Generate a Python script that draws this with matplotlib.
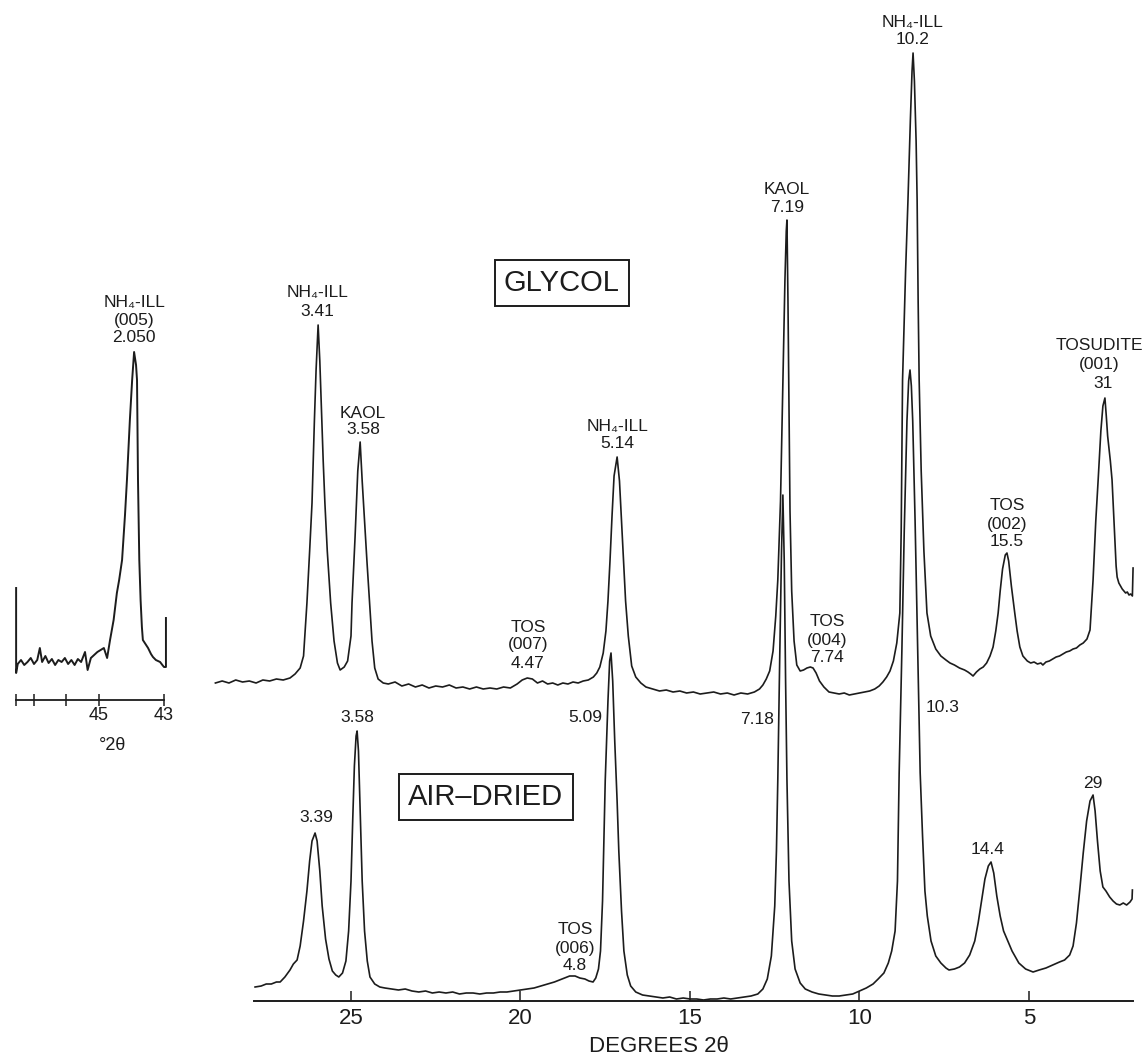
import matplotlib
matplotlib.use("Agg")
import matplotlib.pyplot as plt

plt.rcParams['font.family'] = ['Liberation Sans', 'DejaVu Sans']

# ---- glycol-solvated trace (degrees 2-theta, intensity) ----
gly_deg = [29.00, 28.80, 28.60, 28.40, 28.20, 28.00, 27.80, 27.60, 27.40, 27.20,
           27.00, 26.80, 26.65, 26.50, 26.40, 26.30, 26.22, 26.15, 26.08, 26.03,
           25.97, 25.92, 25.88, 25.82, 25.77, 25.70, 25.60, 25.50, 25.40, 25.32,
           25.20, 25.10, 25.00, 24.97, 24.88, 24.80, 24.73, 24.67, 24.60, 24.53,
           24.45, 24.38, 24.30, 24.20, 24.05, 23.90, 23.70, 23.50, 23.30, 23.10,
           22.90, 22.70, 22.50, 22.30, 22.10, 21.90, 21.70, 21.50, 21.30, 21.10,
           20.90, 20.70, 20.50, 20.30, 20.10, 19.95, 19.80, 19.65, 19.50, 19.35,
           19.20, 19.05, 18.90, 18.75, 18.60, 18.45, 18.30, 18.15, 18.00, 17.85,
           17.75, 17.66, 17.56, 17.48, 17.42, 17.36, 17.30, 17.24, 17.15, 17.08,
           17.02, 16.96, 16.90, 16.82, 16.72, 16.60, 16.45, 16.30, 16.10, 15.90,
           15.70, 15.50, 15.30, 15.10, 14.90, 14.70, 14.50, 14.30, 14.10, 13.90,
           13.70, 13.50, 13.30, 13.10, 12.95, 12.85, 12.75, 12.65, 12.55, 12.47,
           12.41, 12.33, 12.26, 12.20, 12.16, 12.14, 12.11, 12.08, 12.05, 12.00,
           11.93, 11.85, 11.75, 11.65, 11.55, 11.45, 11.37, 11.28, 11.18, 11.05,
           10.90, 10.75, 10.60, 10.45, 10.30, 10.15, 10.00, 9.85, 9.70, 9.55,
           9.42, 9.31, 9.20, 9.10, 9.00, 8.90, 8.81, 8.77, 8.73, 8.64,
           8.57, 8.50, 8.45, 8.42, 8.38, 8.33, 8.30, 8.27, 8.24, 8.18,
           8.10, 8.01, 7.90, 7.75, 7.60, 7.45, 7.33, 7.20, 7.05, 6.90,
           6.80, 6.72, 6.65, 6.55, 6.45, 6.35, 6.25, 6.15, 6.06, 5.98,
           5.91, 5.85, 5.78, 5.70, 5.65, 5.60, 5.52, 5.42, 5.35, 5.27,
           5.18, 5.05, 4.95, 4.85, 4.75, 4.65, 4.59, 4.50, 4.40, 4.30,
           4.20, 4.10, 4.00, 3.90, 3.80, 3.70, 3.60, 3.50, 3.40, 3.29,
           3.20, 3.11, 3.03, 2.96, 2.88, 2.82, 2.76, 2.72, 2.68, 2.60,
           2.55, 2.48, 2.43, 2.40, 2.35, 2.30, 2.25, 2.20, 2.15, 2.10,
           2.05, 2.00, 1.95, 1.93]
gly_int = [318, 320, 318, 321, 319, 320, 318, 321, 320, 322,
           321, 323, 327, 333, 345, 398, 450, 498, 580, 631,
           676, 640, 600, 540, 498, 450, 398, 360, 338, 331,
           334, 340, 365, 398, 464, 530, 559, 520, 480, 440,
           398, 360, 333, 322, 318, 317, 319, 315, 317, 314,
           316, 313, 315, 314, 316, 313, 314, 312, 314, 312,
           313, 312, 314, 313, 317, 321, 323, 322, 318, 320,
           317, 318, 316, 318, 317, 319, 318, 320, 321, 324,
           328, 334, 348, 370, 400, 440, 485, 525, 544, 520,
           480, 440, 400, 365, 335, 324, 318, 314, 312, 310,
           311, 309, 310, 308, 309, 307, 308, 309, 307, 308,
           306, 308, 307, 309, 312, 316, 322, 330, 350, 385,
           421, 500, 621, 720, 770, 781, 700, 600, 490, 410,
           360, 336, 330, 331, 333, 334, 333, 328, 320, 314,
           309, 308, 307, 308, 306, 307, 308, 309, 310, 312,
           315, 319, 324, 330, 340, 358, 388, 470, 621, 730,
           801, 880, 930, 948, 920, 860, 801, 700, 621, 530,
           450, 388, 365, 352, 345, 341, 338, 336, 333, 331,
           329, 327, 325, 329, 332, 334, 338, 345, 354, 370,
           388, 410, 432, 446, 448, 440, 415, 388, 370, 354,
           345, 340, 338, 339, 337, 338, 336, 339, 340, 342,
           344, 345, 347, 349, 350, 352, 353, 356, 358, 362,
           371, 421, 480, 521, 570, 595, 603, 585, 565, 540,
           521, 470, 435, 424, 418, 415, 412, 410, 408, 409,
           406, 407, 405, 433]

# ---- air-dried trace ----
air_deg = [27.83, 27.65, 27.50, 27.35, 27.20, 27.09, 26.95, 26.80, 26.70, 26.59,
           26.50, 26.40, 26.30, 26.22, 26.15, 26.06, 26.00, 25.92, 25.85, 25.75,
           25.65, 25.55, 25.45, 25.36, 25.25, 25.15, 25.07, 25.00, 24.95, 24.90,
           24.85, 24.82, 24.78, 24.73, 24.67, 24.60, 24.52, 24.44, 24.30, 24.15,
           24.00, 23.80, 23.60, 23.40, 23.20, 23.00, 22.80, 22.60, 22.40, 22.20,
           22.00, 21.80, 21.60, 21.40, 21.20, 21.00, 20.80, 20.60, 20.40, 20.20,
           20.00, 19.80, 19.60, 19.40, 19.20, 19.00, 18.85, 18.70, 18.55, 18.39,
           18.25, 18.10, 17.98, 17.86, 17.78, 17.70, 17.64, 17.58, 17.50, 17.42,
           17.37, 17.33, 17.28, 17.22, 17.15, 17.10, 17.02, 16.95, 16.85, 16.75,
           16.60, 16.40, 16.20, 16.00, 15.80, 15.60, 15.40, 15.20, 15.00, 14.80,
           14.60, 14.40, 14.20, 14.00, 13.80, 13.60, 13.40, 13.20, 13.00, 12.85,
           12.72, 12.60, 12.50, 12.45, 12.41, 12.35, 12.30, 12.26, 12.22, 12.18,
           12.14, 12.08, 12.00, 11.90, 11.75, 11.60, 11.40, 11.20, 11.00, 10.80,
           10.60, 10.40, 10.20, 10.00, 9.80, 9.60, 9.45, 9.28, 9.15, 9.05,
           8.95, 8.88, 8.83, 8.75, 8.68, 8.60, 8.55, 8.51, 8.47, 8.43,
           8.36, 8.29, 8.21, 8.14, 8.07, 8.00, 7.89, 7.75, 7.60, 7.45,
           7.36, 7.20, 7.05, 6.90, 6.75, 6.60, 6.50, 6.40, 6.30, 6.20,
           6.12, 6.04, 5.95, 5.85, 5.75, 5.65, 5.50, 5.30, 5.10, 4.88,
           4.70, 4.50, 4.30, 4.10, 3.95, 3.80, 3.70, 3.60, 3.50, 3.40,
           3.30, 3.20, 3.11, 3.05, 2.98, 2.90, 2.82, 2.73, 2.62, 2.52,
           2.42, 2.32, 2.22, 2.12, 2.02, 1.96, 1.95]
air_int = [14, 15, 17, 17, 19, 19, 24, 31, 37, 41,
           55, 80, 110, 140, 160, 168, 160, 130, 95, 62,
           42, 30, 26, 24, 28, 40, 70, 120, 180, 235,
           265, 270, 250, 190, 120, 70, 40, 24, 17, 14,
           13, 12, 11, 12, 10, 9, 10, 8, 9, 8,
           9, 7, 8, 8, 7, 8, 8, 9, 9, 10,
           11, 12, 13, 15, 17, 19, 21, 23, 25, 25,
           23, 22, 20, 19, 23, 32, 50, 100, 221, 300,
           340, 348, 320, 260, 200, 150, 90, 50, 26, 15,
           9, 6, 5, 4, 3, 4, 2, 3, 2, 2,
           1, 2, 2, 3, 2, 3, 4, 5, 7, 12,
           22, 45, 95, 150, 221, 350, 450, 506, 440, 320,
           221, 120, 60, 32, 18, 12, 9, 7, 6, 5,
           5, 6, 7, 10, 13, 17, 22, 28, 38, 50,
           70, 120, 228, 350, 470, 580, 620, 631, 615, 580,
           480, 360, 228, 165, 110, 85, 60, 45, 38, 33,
           31, 32, 34, 38, 46, 60, 78, 100, 122, 135,
           139, 128, 105, 85, 70, 62, 50, 38, 32, 29,
           31, 33, 36, 39, 41, 46, 55, 78, 112, 148,
           180, 200, 206, 190, 160, 130, 114, 110, 104, 100,
           97, 96, 98, 96, 99, 102, 111]

# ---- inset: NH4-illite (005) reflection ----
ins_deg = [47.55, 47.55, 47.50, 47.40, 47.30, 47.20, 47.10, 47.00, 46.90, 46.82,
           46.75, 46.65, 46.55, 46.45, 46.35, 46.25, 46.15, 46.05, 45.95, 45.85,
           45.75, 45.65, 45.55, 45.43, 45.35, 45.25, 45.15, 45.05, 44.95, 44.85,
           44.75, 44.66, 44.55, 44.45, 44.38, 44.29, 44.20, 44.14, 44.05, 43.98,
           43.92, 43.86, 43.83, 43.80, 43.76, 43.72, 43.68, 43.65, 43.55, 43.49,
           43.40, 43.34, 43.25, 43.12, 43.05, 43.00, 42.94, 42.94]
ins_int = [112, 27, 36, 40, 35, 38, 42, 36, 40, 52,
           38, 44, 37, 41, 35, 40, 38, 42, 36, 40,
           35, 41, 38, 48, 30, 42, 45, 48, 50, 52,
           42, 60, 80, 107, 120, 140, 185, 220, 280, 320,
           348, 335, 320, 220, 140, 100, 73, 60, 55, 52,
           46, 43, 40, 38, 35, 33, 33, 82]

main_ticks = [25, 20, 15, 10, 5]
inset_ticks = [47.55, 47, 46, 45, 43]
inset_ticklabels = ['', '', '', '45', '43']

# peak labels: (2theta, intensity, text)
gly_labels = [
    (26.00, 708, 'NH\u2084-ILL'), (26.00, 689, '3.41'),
    (24.65, 588, 'KAOL'), (24.65, 571, '3.58'),
    (19.78, 374, 'TOS'), (19.78, 356, '(007)'), (19.78, 338, '4.47'),
    (17.15, 574, 'NH\u2084-ILL'), (17.15, 557, '5.14'),
    (12.14, 811, 'KAOL'), (12.14, 793, '7.19'),
    (10.96, 379, 'TOS'), (10.96, 361, '(004)'), (10.96, 343, '7.74'),
    (8.42, 979, 'NH\u2084-ILL'), (8.42, 961, '10.2'),
    (5.65, 495, 'TOS'), (5.65, 477, '(002)'), (5.65, 459, '15.5'),
    (2.91, 656, 'TOSUDITE'), (2.94, 636, '(001)'), (2.82, 618, '31'),
]
air_labels = [
    (26.03, 183, '3.39'), (24.80, 284, '3.58'),
    (18.39, 71, 'TOS'), (18.39, 53, '(006)'), (18.39, 35, '4.8'),
    (18.10, 284, '5.09'), (13.02, 281, '7.18'), (7.54, 293, '10.3'),
    (6.21, 151, '14.4'), (3.11, 218, '29'),
]

ink = '#1c1c1c'

fig = plt.figure(figsize=(11.47, 10.64), dpi=100)

# main axes covers the whole figure, 1 intensity unit = 1 pixel
ax = fig.add_axes([0, 0, 1, 1])
ax.set_xlim(35.354, 1.519)
ax.set_ylim(-63, 1001)
ax.set_facecolor('white')

ax.plot(gly_deg, gly_int, color=ink, lw=1.2)
ax.plot(air_deg, air_int, color=ink, lw=1.2)

for sp in ['left', 'right', 'top']:
    ax.spines[sp].set_visible(False)
ax.spines['bottom'].set_position(('data', 0))
ax.spines['bottom'].set_bounds(27.87, 1.93)
ax.spines['bottom'].set_linewidth(1.4)
ax.spines['bottom'].set_color(ink)
ax.set_yticks([])
ax.set_xticks(main_ticks)
ax.set_xticklabels([str(t) for t in main_ticks])
ax.tick_params(axis='x', direction='in', length=7, width=1.1, color=ink,
               labelsize=16, labelcolor=ink, pad=5)

ax.text(15.91, -46, 'DEGREES 2\u03b8', fontsize=16, color=ink,
        ha='center', va='center')

for x, y, s in gly_labels + air_labels:
    ax.text(x, y, s, fontsize=12.5, color=ink, ha='center', va='center')

box = dict(boxstyle='square,pad=0.32', fc='white', ec=ink, lw=1.4)
ax.text(18.78, 718, 'GLYCOL', fontsize=21, color=ink, ha='center',
        va='center', bbox=box)
ax.text(21.02, 204, 'AIR\u2013DRIED', fontsize=21, color=ink, ha='center',
        va='center', bbox=box)

# inset axes
ax2 = fig.add_axes([0, (1064 - 760) / 1064, 230 / 1147, 500 / 1064])
ax2.set_facecolor('none')
ax2.set_xlim(48.046, 40.969)
ax2.set_ylim(-60, 440)
ax2.plot(ins_deg, ins_int, color=ink, lw=1.4)
for sp in ['left', 'right', 'top']:
    ax2.spines[sp].set_visible(False)
ax2.spines['bottom'].set_position(('data', 0))
ax2.spines['bottom'].set_bounds(47.55, 43.0)
ax2.spines['bottom'].set_linewidth(1.3)
ax2.spines['bottom'].set_color(ink)
ax2.set_yticks([])
ax2.set_xticks(inset_ticks)
ax2.set_xticklabels(inset_ticklabels)
ax2.tick_params(axis='x', direction='inout', length=8, width=1.1, color=ink,
                labelsize=13, labelcolor=ink, pad=1)
ax2.text(43.92, 397, 'NH\u2084-ILL', fontsize=12.5, color=ink, ha='center', va='center')
ax2.text(43.92, 380, '(005)', fontsize=12.5, color=ink, ha='center', va='center')
ax2.text(43.92, 363, '2.050', fontsize=12.5, color=ink, ha='center', va='center')
ax2.text(44.57, -45, '\u00b02\u03b8', fontsize=13, color=ink, ha='center', va='center')

fig.savefig('out.png', dpi=100)
